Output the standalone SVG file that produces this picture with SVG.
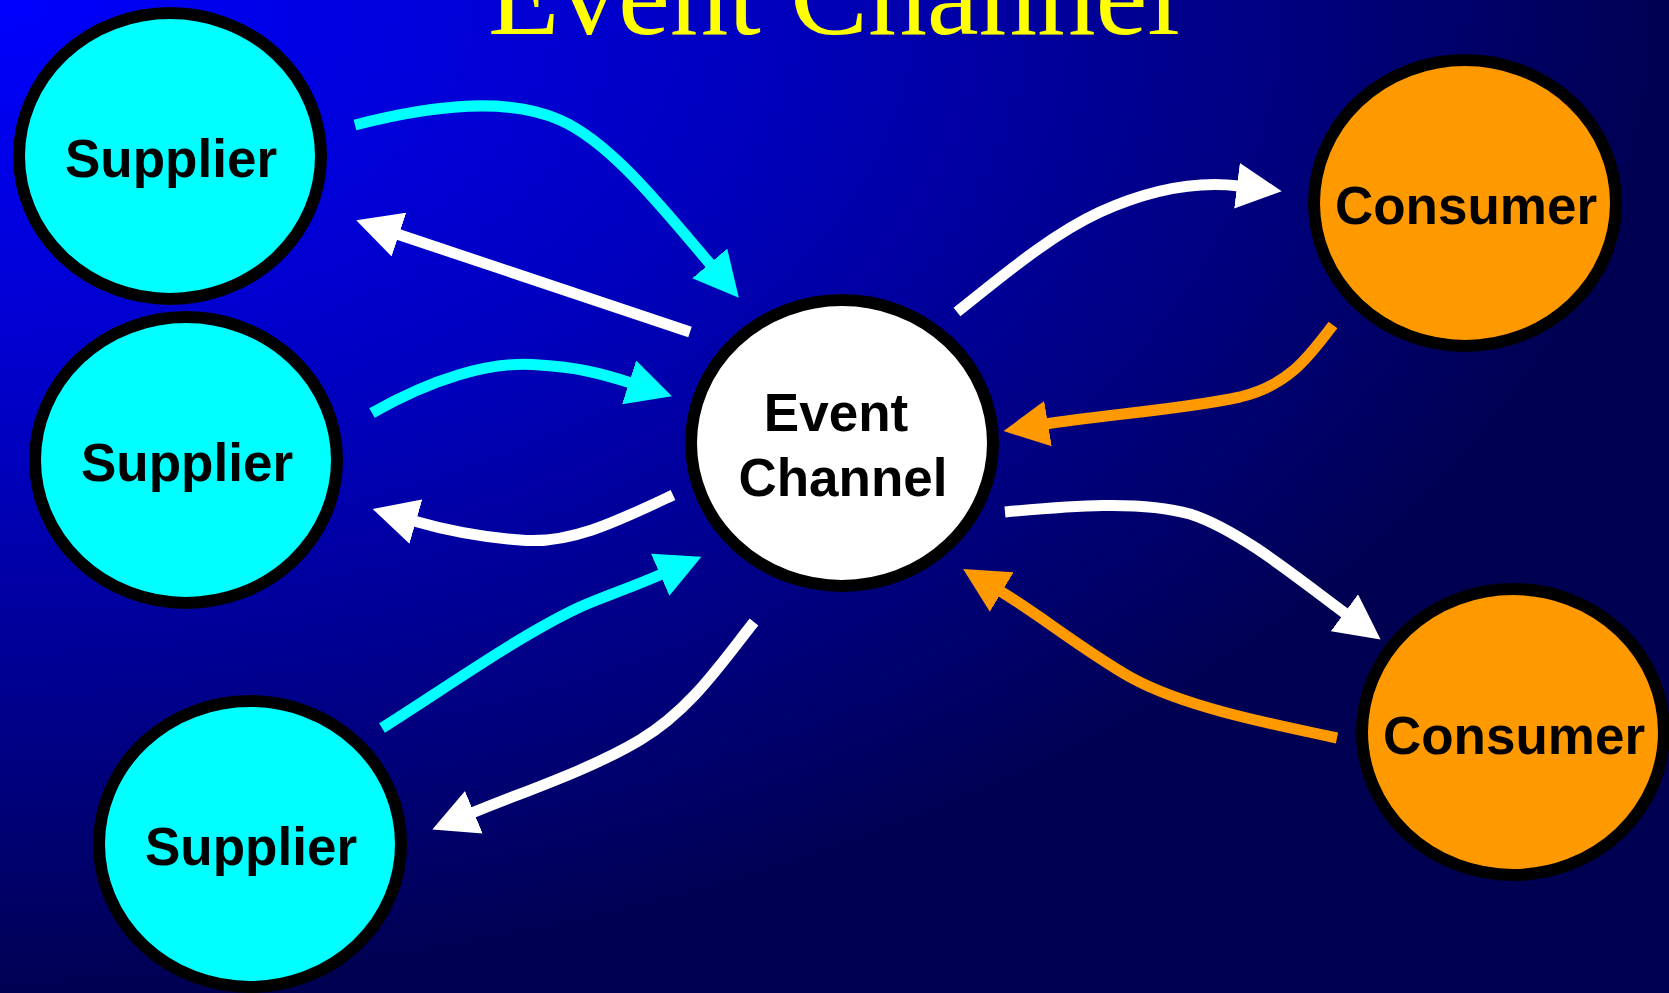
<svg xmlns="http://www.w3.org/2000/svg" width="1669" height="993" viewBox="0 0 1669 993">
  <defs>
    <radialGradient id="bg" cx="0" cy="0" r="1" fx="0" fy="0" gradientUnits="objectBoundingBox">
      <stop offset="0" stop-color="#0000FF"/>
      <stop offset="0.45" stop-color="#0000C0"/>
      <stop offset="1" stop-color="#000052"/>
    </radialGradient>
    <marker id="ah-cyan" markerUnits="userSpaceOnUse" viewBox="0 0 46 46" markerWidth="46" markerHeight="46" refX="2" refY="23" orient="auto">
      <path d="M0,0 L45,23 L0,46 z" fill="#00FFFF"/>
    </marker>
    <marker id="ah-white" markerUnits="userSpaceOnUse" viewBox="0 0 46 46" markerWidth="46" markerHeight="46" refX="2" refY="23" orient="auto">
      <path d="M0,0 L45,23 L0,46 z" fill="#FFFFFF"/>
    </marker>
    <marker id="ah-orange" markerUnits="userSpaceOnUse" viewBox="0 0 46 46" markerWidth="46" markerHeight="46" refX="2" refY="23" orient="auto">
      <path d="M0,0 L45,23 L0,46 z" fill="#FF9900"/>
    </marker>
  </defs>
  <style>
    .node { stroke: #000000; stroke-width: 12; }
    .supplier { fill: #00FFFF; }
    .consumer { fill: #FF9900; }
    .channel { fill: #FFFFFF; }
    .label { font-family: "Liberation Sans", Arial, sans-serif; font-weight: bold; font-size: 53px; fill: #000000; text-anchor: middle; }
    .title { font-family: "Liberation Serif", "Times New Roman", serif; font-size: 117px; fill: #FFFF00; text-anchor: middle; }
    .conn { fill: none; stroke-width: 11; stroke-linecap: butt; }
    .cyan { stroke: #00FFFF; marker-end: url(#ah-cyan); }
    .white { stroke: #FFFFFF; marker-end: url(#ah-white); }
    .orange { stroke: #FF9900; marker-end: url(#ah-orange); }
  </style>
  <rect x="0" y="0" width="1669" height="993" fill="url(#bg)"/>
  <text class="title" x="834" y="34">Event Channel</text>

  <g id="supplier1">
    <ellipse class="node supplier" cx="170" cy="156" rx="151" ry="143"/>
    <text class="label" x="171" y="177">Supplier</text>
  </g>
  <g id="supplier2">
    <ellipse class="node supplier" cx="186" cy="460" rx="151" ry="143"/>
    <text class="label" x="187" y="481">Supplier</text>
  </g>
  <g id="supplier3">
    <ellipse class="node supplier" cx="250" cy="844" rx="151" ry="143"/>
    <text class="label" x="251" y="865">Supplier</text>
  </g>
  <g id="event-channel">
    <ellipse class="node channel" cx="842" cy="443" rx="151" ry="143"/>
    <text class="label" x="836" y="431">Event</text>
    <text class="label" x="843" y="496">Channel</text>
  </g>
  <g id="consumer1">
    <ellipse class="node consumer" cx="1465" cy="203" rx="151" ry="143"/>
    <text class="label" x="1466" y="224">Consumer</text>
  </g>
  <g id="consumer2">
    <ellipse class="node consumer" cx="1513" cy="732" rx="151" ry="143"/>
    <text class="label" x="1514" y="754">Consumer</text>
  </g>

  <g id="connectors">
    <path class="conn cyan" d="M355,125 C440,103 510,98 560,120 C610,142 660,205 711,265"/>
    <path class="conn white" d="M690,332 L397,234"/>
    <path class="conn cyan" d="M372,413 C430,380 490,360 540,365 C575,367 600,373 631,383"/>
    <path class="conn white" d="M673,495 C620,520 570,545 520,540 C480,537 445,530 414,521"/>
    <path class="conn cyan" d="M382,728 C450,685 520,635 580,607 C605,596 630,588 662,574"/>
    <path class="conn white" d="M754,622 C720,665 690,710 640,740 C590,770 520,793 472,813"/>
    <path class="conn white" d="M957,312 C1000,278 1050,235 1100,212 C1140,194 1190,180 1239,186"/>
    <path class="conn orange" d="M1333,325 C1310,355 1290,385 1240,397 C1180,410 1100,415 1046,424"/>
    <path class="conn white" d="M1005,512 C1070,506 1140,500 1190,514 C1240,530 1300,580 1346,614"/>
    <path class="conn orange" d="M1337,738 C1260,722 1180,705 1130,677 C1080,648 1040,615 1000,591"/>
  </g>
</svg>
